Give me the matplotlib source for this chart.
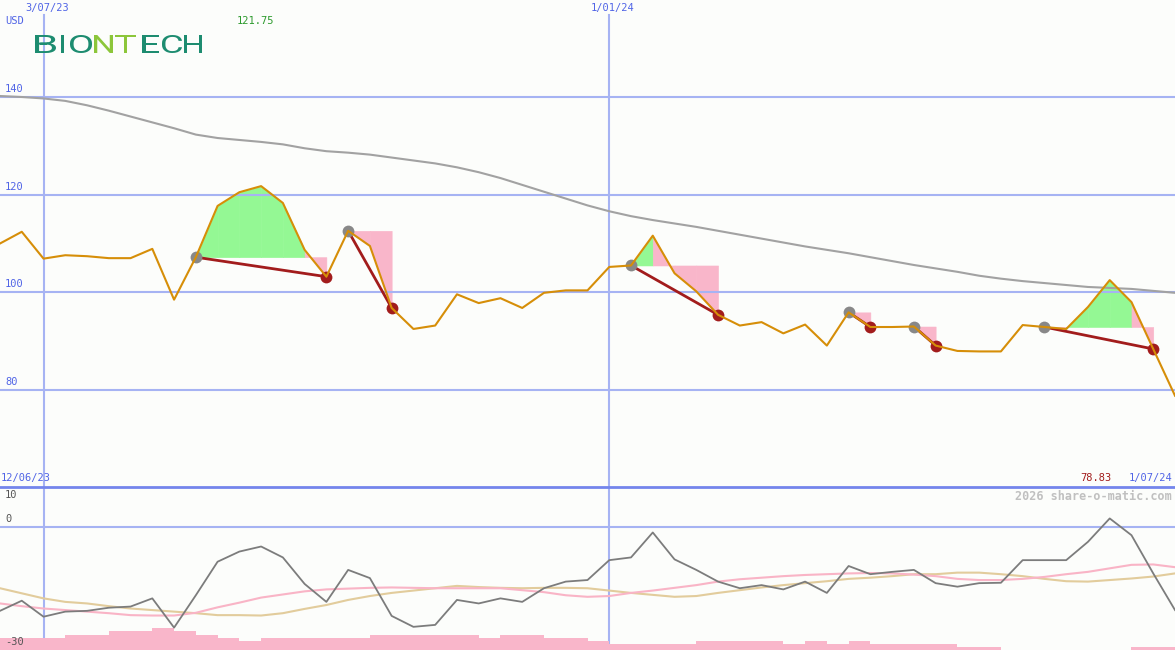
import matplotlib
matplotlib.use('Agg')
import matplotlib.pyplot as plt
import numpy as np
from matplotlib.textpath import TextPath
from matplotlib.patches import PathPatch
from matplotlib.font_manager import FontProperties
from matplotlib.transforms import Affine2D

# weekly closes, 12/06/23 .. 1/07/24
price = [110.0, 112.4, 106.9, 107.6, 107.4, 107.0, 107.0, 108.9, 98.5, 107.2,
         117.7, 120.5, 121.75, 118.3, 108.7, 103.2, 112.6, 109.5, 96.8, 92.5,
         93.2, 99.6, 97.8, 98.8, 96.8, 99.9, 100.4, 100.4, 105.2, 105.5,
         111.6, 103.9, 100.2, 95.4, 93.2, 93.9, 91.6, 93.4, 89.1, 95.9,
         92.9, 92.9, 93.0, 89.1, 88.0, 87.9, 87.9, 93.3, 92.9, 92.5,
         97.0, 102.5, 98.0, 88.4, 78.83]

# long moving average (grey)
ma_long = [140.2, 140.0, 139.7, 139.2, 138.3, 137.2, 136.0, 134.8, 133.6, 132.3,
           131.6, 131.2, 130.8, 130.3, 129.5, 128.9, 128.6, 128.2, 127.6, 127.0,
           126.4, 125.6, 124.6, 123.4, 122.0, 120.6, 119.2, 117.8, 116.6, 115.6,
           114.8, 114.1, 113.4, 112.6, 111.8, 111.0, 110.2, 109.4, 108.7, 108.0,
           107.2, 106.4, 105.6, 104.9, 104.2, 103.4, 102.8, 102.3, 101.9, 101.5,
           101.1, 100.9, 100.7, 100.3, 99.9]

# signals: (start week, end week)
signals = [(9, 15), (16, 18), (29, 33), (39, 40), (42, 43), (48, 53)]

# lower indicator panel
osc = [-21.5, -18.9, -23.0, -21.7, -21.5, -20.7, -20.4, -18.3, -25.8, -17.5,
       -8.9, -6.3, -5.0, -7.8, -14.6, -19.2, -11.0, -13.1, -22.8, -25.6,
       -25.1, -18.7, -19.6, -18.3, -19.2, -15.7, -14.0, -13.6, -8.5, -7.8,
       -1.4, -8.3, -11.0, -14.0, -15.7, -14.9, -16.0, -14.0, -16.9, -10.0,
       -12.1, -11.5, -11.0, -14.4, -15.3, -14.4, -14.3, -8.5, -8.5, -8.5,
       -3.8, 2.2, -2.1, -11.9, -21.3]
osc_pink = [-19.6, -20.3, -20.9, -21.3, -21.7, -22.1, -22.6, -22.7, -22.7, -22.0,
            -20.6, -19.4, -18.1, -17.3, -16.5, -16.0, -15.8, -15.6, -15.5, -15.6,
            -15.7, -15.7, -15.7, -15.7, -16.2, -16.7, -17.5, -17.9, -17.7, -16.9,
            -16.3, -15.6, -14.9, -14.0, -13.4, -13.0, -12.6, -12.3, -12.1, -11.9,
            -11.8, -11.9, -12.2, -12.6, -13.3, -13.6, -13.6, -13.3, -12.8, -12.1,
            -11.5, -10.6, -9.7, -9.6, -10.3]
osc_tan = [-15.7, -17.0, -18.3, -19.2, -19.6, -20.3, -20.9, -21.3, -21.7, -22.1,
           -22.6, -22.6, -22.7, -22.1, -21.0, -20.0, -18.7, -17.7, -16.9, -16.3,
           -15.7, -15.1, -15.4, -15.6, -15.7, -15.6, -15.6, -15.7, -16.3, -16.9,
           -17.4, -17.9, -17.7, -16.9, -16.2, -15.5, -14.9, -14.4, -13.9, -13.3,
           -13.0, -12.6, -12.1, -12.1, -11.7, -11.7, -12.1, -12.6, -13.3, -13.9,
           -14.0, -13.6, -13.2, -12.7, -11.9]
# pink volume blocks (top level per week, nan = none)
vol_top = [-28.5, -28.5, -28.5, -27.7, -27.7, -26.7, -26.7, -26.0, -26.7, -27.7,
           -28.5, -29.2, -28.5, -28.5, -28.5, -28.5, -28.5, -27.7, -27.7, -27.7,
           -27.7, -27.7, -28.4, -27.7, -27.7, -28.4, -28.4, -29.2, -30.0, -30.0,
           -30.0, -30.0, -29.2, -29.2, -29.2, -29.2, -30.0, -29.2, -30.0, -29.2,
           -30.0, -30.0, -30.0, -30.0, -30.8, -30.8, np.nan, np.nan, np.nan, np.nan,
           np.nan, np.nan, -30.8, -30.8]

price_ticks = [140, 120, 100, 80]
date_lines = [2, 28]
date_labels = ['3/07/23', '1/01/24']

BG = '#fcfdfb'
GRID = '#a6b3f3'
BLUE = '#5064e6'
ORANGE = '#d68e08'
GREEN = '#94f894'
PINK = '#f9b6ca'
DRED = '#a21c1c'
MONO = 'DejaVu Sans Mono'
FS = 7.5

fig = plt.figure(figsize=(11.75, 6.5), dpi=100, facecolor=BG)
ax = fig.add_axes([0, 163 / 650, 1, 487 / 650], facecolor=BG)
ax2 = fig.add_axes([0, 0, 1, 163 / 650], facecolor=BG)
x = np.arange(len(price))

for a in (ax, ax2):
    a.set_xlim(0, 54)
    a.set_xticks([])
    a.set_yticks([])
    for s in a.spines.values():
        s.set_visible(False)
ax.set_ylim(60.14, 159.86)
ax2.set_ylim(-31.54, 10.26)

# grid
for t in price_ticks:
    ax.axhline(t, color=GRID, lw=1.5, zorder=2)
    ax.text(5 / 1175, t + 0.6, str(t), transform=ax.get_yaxis_transform(),
            color=BLUE, fontsize=FS, family=MONO, va='bottom', ha='left')
for d, lab in zip(date_lines, date_labels):
    ax.axvline(d, ymax=1 - 15 / 487, color=GRID, lw=1.5, zorder=2)
    ax2.axvline(d, color=GRID, lw=1.5, zorder=1)
    ax.text(d + 0.16, 1 - 3 / 487, lab, transform=ax.get_xaxis_transform(),
            color=BLUE, fontsize=FS, family=MONO, va='top', ha='center')

# signal fills
for s, e in signals:
    lvl = price[s]
    for j in range(s, e):
        col = GREEN if price[j + 1] > lvl else PINK
        ax.fill_between([j, j + 1], lvl, [price[j], price[j + 1]],
                        color=col, lw=0.4, edgecolor=col, zorder=1)

ax.plot(x, ma_long, color='#a2a2a2', lw=1.5, zorder=3)
for s, e in signals:
    ax.plot([s, e], [price[s], price[e]], color=DRED, lw=2.0, zorder=4)
    ax.plot(s, price[s], 'o', color='#888888', ms=8.5, mew=0, zorder=5)
    ax.plot(e, price[e], 'o', color=DRED, ms=8.5, mew=0, zorder=5)
ax.plot(x, price, color=ORANGE, lw=1.5, zorder=6)

# texts in main panel
ax.text(5 / 1175, 1 - 16 / 487, 'USD', transform=ax.transAxes, color=BLUE,
        fontsize=FS, family=MONO, va='top', ha='left')
ax.text(237 / 1175, 1 - 16 / 487, '%.2f' % max(price), transform=ax.transAxes,
        color='#2c9a2c', fontsize=FS, family=MONO, va='top', ha='left')
ax.text(1 / 1175, 4 / 487, '12/06/23', transform=ax.transAxes, color=BLUE,
        fontsize=FS, family=MONO, va='bottom', ha='left')
ax.text(1112 / 1175, 4 / 487, '%.2f' % price[-1], transform=ax.transAxes,
        color=DRED, fontsize=FS, family=MONO, va='bottom', ha='right')
ax.text(1172 / 1175, 4 / 487, '1/07/24', transform=ax.transAxes, color=BLUE,
        fontsize=FS, family=MONO, va='bottom', ha='right')

# logo, letters stretched into boxes (pixel coords)
lax = fig.add_axes([0, 0, 1, 1], facecolor='none')
lax.set_xlim(0, 1175)
lax.set_ylim(650, 0)
lax.axis('off')
logo = [('B', 35, 56), ('I', 61, 63.5), ('O', 70, 92), ('N', 94, 113),
        ('T', 115, 136), ('E', 142, 159), ('C', 162, 182), ('H', 184, 202)]
fp = FontProperties(family='Roboto', weight='normal')
for ch, x0, x1 in logo:
    col = '#8cc63a' if ch in 'NT' else '#1d8c70'
    tp = TextPath((0, 0), ch, size=1, prop=fp)
    ext = tp.get_extents()
    sx = (x1 - x0) / ext.width
    sy = 18 / ext.height
    tr = Affine2D().translate(-ext.x0, -ext.y0).scale(sx, -sy).translate(x0, 53)
    lax.add_patch(PathPatch(tr.transform_path(tp), color=col, lw=0))

# lower panel
ax2.axhline(0, color=GRID, lw=1.5, zorder=1)
ax2.spines['top'].set_visible(True)
ax2.spines['top'].set_color('#7485ec')
ax2.spines['top'].set_linewidth(2)
bot = ax2.get_ylim()[0]
vt = np.array(vol_top, dtype=float)
ax2.bar(np.arange(len(vt)), vt - bot, bottom=bot, width=1.0, align='edge',
        color=PINK, lw=0, zorder=2)
ax2.plot(x, osc_tan, color='#e2cc9c', lw=1.5, zorder=3)
ax2.plot(x, osc_pink, color='#f9b4c6', lw=1.5, zorder=3)
ax2.plot(x, osc, color='#7c7c7c', lw=1.3, zorder=4)

ax2.text(5 / 1175, 9.5, '10', transform=ax2.get_yaxis_transform(), color='#555555',
         fontsize=FS, family=MONO, va='top', ha='left')
ax2.text(5 / 1175, 0.8, '0', transform=ax2.get_yaxis_transform(), color='#555555',
         fontsize=FS, family=MONO, va='bottom', ha='left')
ax2.text(5 / 1175, -29.5, '-30', transform=ax2.get_yaxis_transform(), color='#555555',
         fontsize=FS, family=MONO, va='center', ha='left')
ax2.text(1172 / 1175, 1 - 3 / 163, '2026 share-o-matic.com', transform=ax2.transAxes,
         color='#c0c0c0', fontsize=8.5, family=MONO, fontweight='bold',
         va='top', ha='right')

fig.savefig('out.png', dpi=100, facecolor=BG)
